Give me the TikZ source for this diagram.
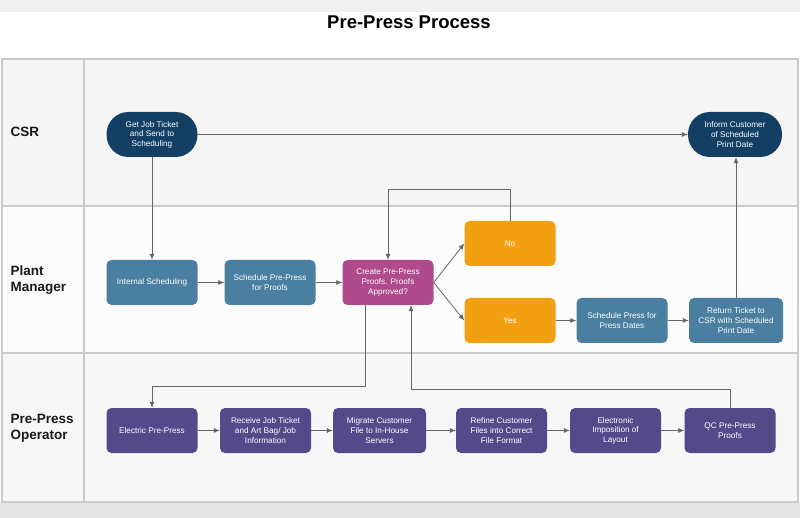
\documentclass[tikz,border=0pt]{standalone}
\usepackage{fontspec}
\setmainfont{Liberation Sans}
\usetikzlibrary{arrows.meta}
\definecolor{csrblue}{HTML}{123F63}
\definecolor{pmblue}{HTML}{4A7FA1}
\definecolor{proofpink}{HTML}{AF4A8C}
\definecolor{choiceorange}{HTML}{F2A012}
\definecolor{oppurple}{HTML}{544A8A}
\definecolor{lanegray}{HTML}{CACACA}
\definecolor{linegray}{HTML}{666666}
\begin{document}
\begin{tikzpicture}[x=1pt,y=-1pt,
    lane/.style={draw=lanegray,line width=1.2pt},
    lanelabel/.style={anchor=west,align=left,font=\fontsize{13.5}{16}\selectfont\bfseries,text=black!90},
    task/.style={rectangle,rounded corners=5pt,minimum width=91pt,minimum height=45pt,inner sep=1pt,
        text=white,align=center,font=\fontsize{8.2}{9.6}\selectfont},
    terminal/.style={task,rounded corners=22pt,fill=csrblue},
    pmtask/.style={task,fill=pmblue},
    choice/.style={task,fill=choiceorange},
    optask/.style={task,fill=oppurple},
    flow/.style={draw=linegray,line width=0.8pt,-{Latex[length=6pt,width=5pt]}}]
    \useasboundingbox (0,0) rectangle (800,518);
    \fill[white] (0,0) rectangle (800,518);
    \fill[black!6] (0,0) rectangle (800,12);
    \fill[black!10] (0,502) rectangle (800,518);
    \node[font=\fontsize{18.5}{22}\selectfont\bfseries] (title) at (409,22) {Pre-Press Process};
    \fill[black!4] (2,59) rectangle (798,206);
    \fill[black!1] (2,206) rectangle (798,353);
    \fill[black!3] (2,353) rectangle (798,502);
    \draw[lane] (2,59) rectangle (798,502);
    \draw[lane] (2,206) -- (798,206);
    \draw[lane] (2,353) -- (798,353);
    \draw[lane] (84,59) -- (84,502);
    \node[lanelabel] (csrlabel) at (7,132) {CSR};
    \node[lanelabel] (pmlabel) at (7,280) {Plant\\Manager};
    \node[lanelabel] (oplabel) at (7,428) {Pre-Press\\Operator};

    \node[terminal] (getjob) at (152,134.5) {Get Job Ticket\\and Send to\\Scheduling};
    \node[terminal,minimum width=94pt] (inform) at (735,134.5) {Inform Customer\\of Scheduled\\Print Date};

    \node[pmtask] (internal) at (152,282.5) {Internal Scheduling};
    \node[pmtask] (schedpre) at (270,282.5) {Schedule Pre-Press\\for Proofs};
    \node[task,fill=proofpink] (create) at (388,282.5) {Create Pre-Press\\Proofs. Proofs\\Approved?};
    \node[choice] (no) at (510,243.5) {No};
    \node[choice] (yes) at (510,320.5) {Yes};
    \node[pmtask] (schedpress) at (622,320.5) {Schedule Press for\\Press Dates};
    \node[pmtask,minimum width=94pt] (return) at (736,320.5) {Return Ticket to\\CSR with Scheduled\\Print Date};

    \node[optask] (electric) at (152,430.5) {Electric Pre-Press};
    \node[optask] (receive) at (265.5,430.5) {Receive Job Ticket\\and Art Bag/ Job\\Information};
    \node[optask,minimum width=93pt] (migrate) at (379.5,430.5) {Migrate Customer\\File to In-House\\Servers};
    \node[optask] (refine) at (501.5,430.5) {Refine Customer\\Files into Correct\\File Format};
    \node[optask] (impose) at (615.5,430.5) {Electronic\\Imposition of\\Layout};
    \node[optask] (qc) at (730,430.5) {QC Pre-Press\\Proofs};

    \draw[flow] (getjob) -- (inform);
    \draw[flow] (getjob) -- (internal);
    \draw[flow] (internal) -- (schedpre);
    \draw[flow] (schedpre) -- (create);
    \draw[flow] (create.east) -- (no.west);
    \draw[flow] (create.east) -- (yes.west);
    \draw[flow] (no.north) -- ++(0,-31) -| (create.north);
    \draw[flow] (yes) -- (schedpress);
    \draw[flow] (schedpress) -- (return);
    \draw[flow] (return.north) -- (return.north |- inform.south);
    \draw[flow] ([xshift=-23pt]create.south) -- ++(0,81) -| (electric.north);
    \draw[flow] (electric) -- (receive);
    \draw[flow] (receive) -- (migrate);
    \draw[flow] (migrate) -- (refine);
    \draw[flow] (refine) -- (impose);
    \draw[flow] (impose) -- (qc);
    \draw[flow] (qc.north) -- ++(0,-18) -| ([xshift=23pt]create.south);
\end{tikzpicture}
\end{document}
